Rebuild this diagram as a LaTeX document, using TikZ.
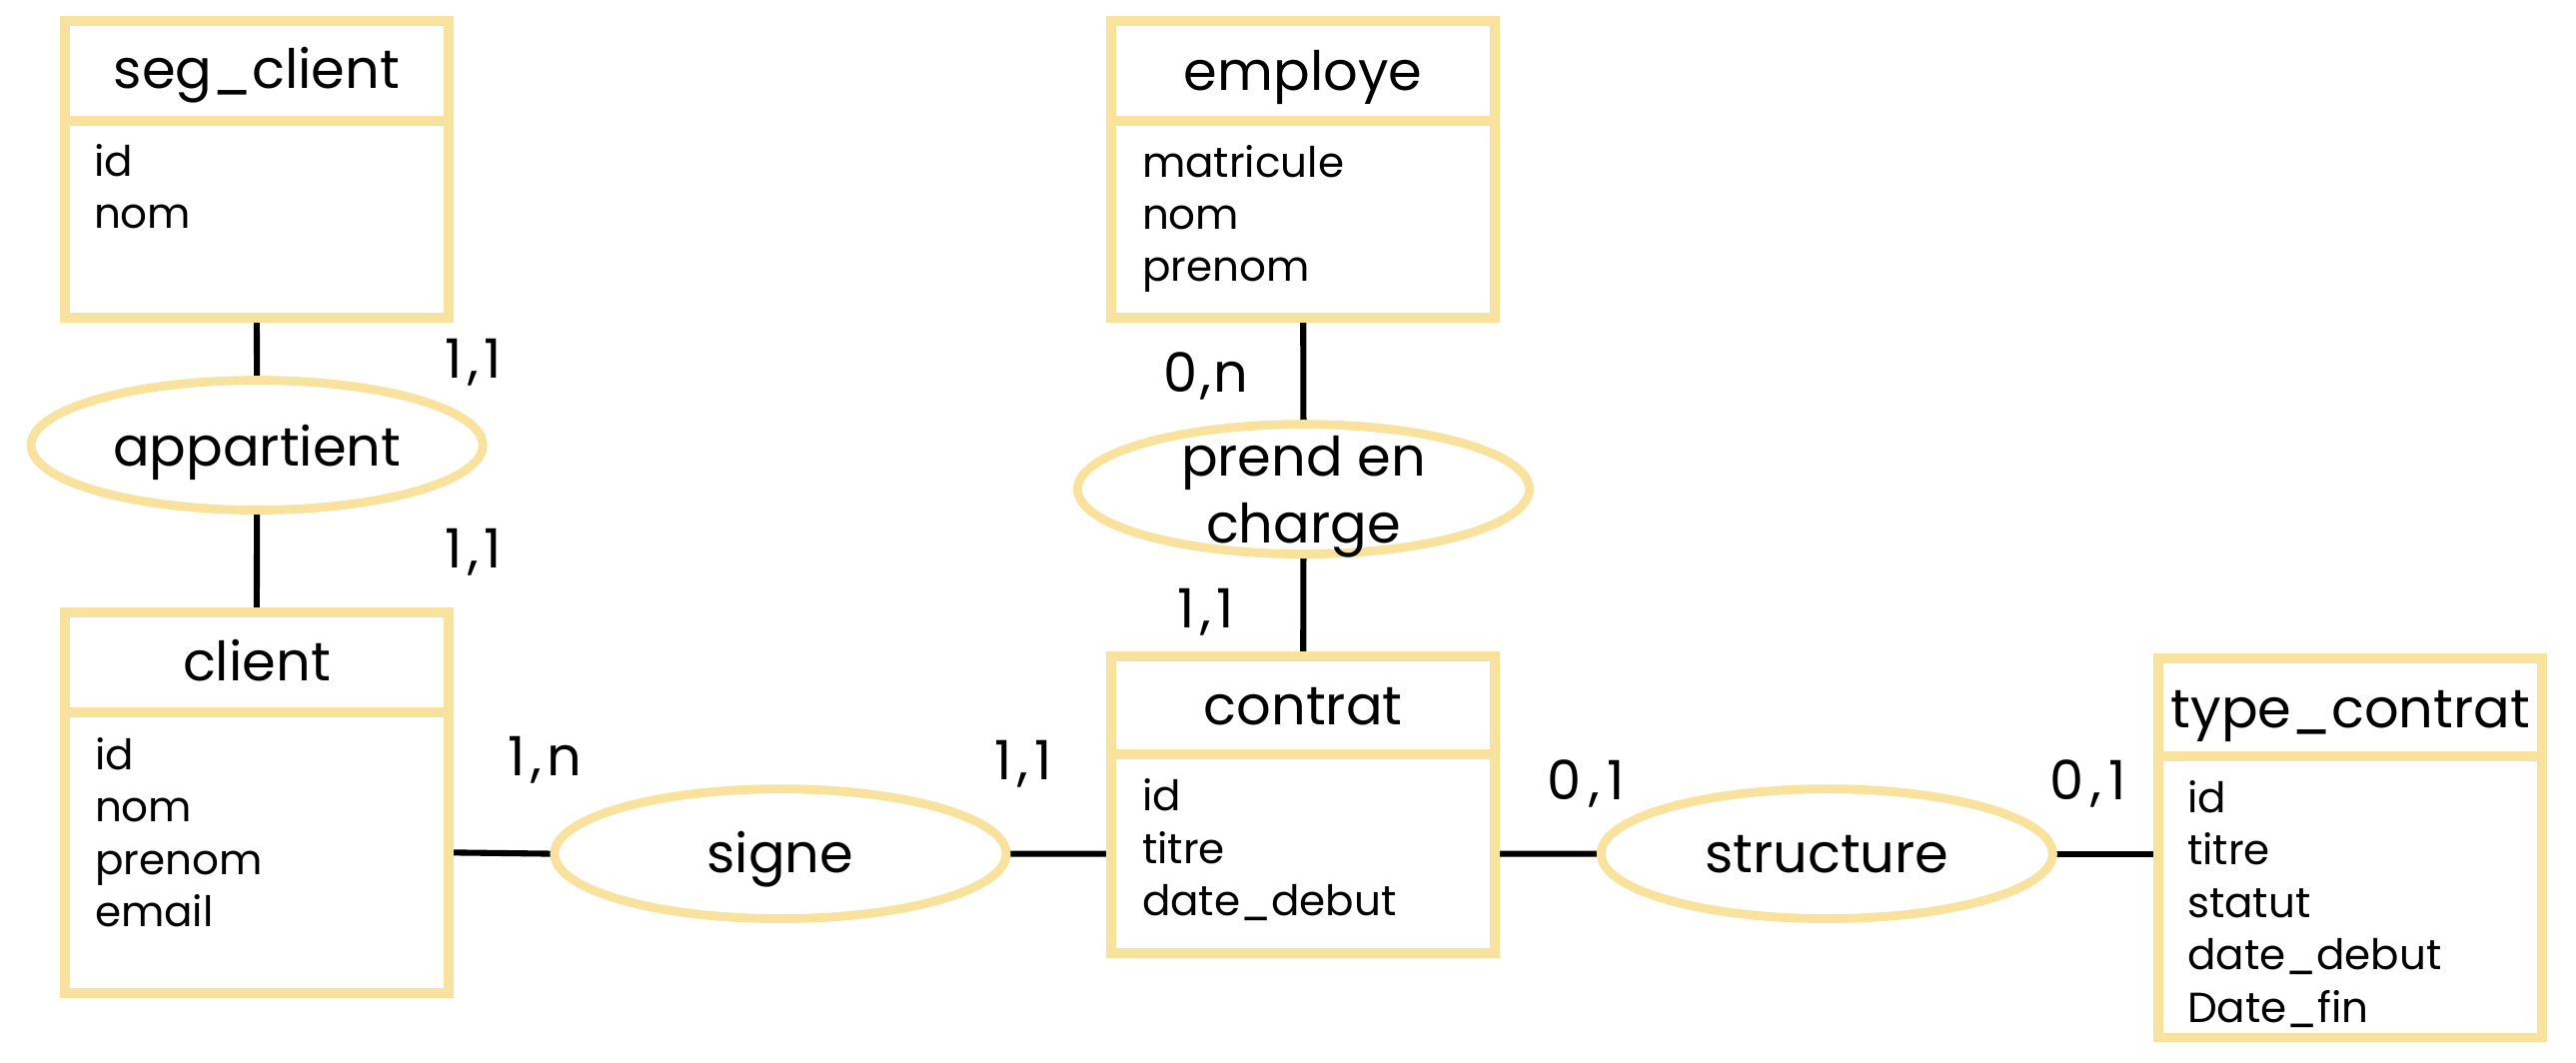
\documentclass[tikz,border=0pt]{standalone}
\usepackage{fontspec}
\setmainfont{Poppins}
\usetikzlibrary{shapes.geometric}
\definecolor{ery}{RGB}{249,226,158}
\pgfdeclarelayer{bg}
\pgfsetlayers{bg,main}
\newcommand{\cardsep}[1]{\kern#1,\kern#1}
\begin{document}
\begin{tikzpicture}[x=1pt,y=-1pt,
  box/.style={draw=ery, line width=6pt, rectangle, inner sep=0pt, outer sep=0pt, anchor=north west, minimum width=233.5pt},
  rel/.style={draw=ery, line width=5.4pt, ellipse, inner sep=0pt, outer sep=0pt, minimum width=275pt, minimum height=79pt},
  link/.style={line width=3.7pt, black},
  title/.style={font=\fontsize{33}{40}\selectfont, anchor=base, inner sep=0pt},
  attr/.style={font=\fontsize{25.6}{31}\selectfont, anchor=base west, inner sep=0pt},
  card/.style={font=\fontsize{33}{38}\selectfont, anchor=base, inner sep=0pt},
  reltxt/.style={font=\fontsize{33}{40}\selectfont, anchor=base, inner sep=0pt}
]
\useasboundingbox (0,0) rectangle (1568,647);

% entities
\node[box, minimum height=60.9pt] (sc-head) at (39.5,12.7) {};
\node[box, minimum height=119.9pt] (sc-body) at (39.5,73.6) {};
\node[box, minimum height=60.4pt] (cl-head) at (39.5,373) {};
\node[box, minimum height=171.2pt] (cl-body) at (39.5,433.4) {};
\node[box, minimum height=60.7pt] (em-head) at (676.5,12.7) {};
\node[box, minimum height=120.1pt] (em-body) at (676.5,73.4) {};
\node[box, minimum height=59.4pt] (co-head) at (676.5,399.8) {};
\node[box, minimum height=121.3pt] (co-body) at (676.5,459.2) {};
\node[box, minimum height=59.7pt] (tc-head) at (1314,400.8) {};
\node[box, minimum height=171.1pt] (tc-body) at (1314,460.5) {};

% relations
\node[rel] (app) at (156.4,271) {};
\node[rel] (pec) at (793.4,297.8) {};
\node[rel] (sig) at (475,519.8) {};
\node[rel] (str) at (1112,519.8) {};

% titles
\node[title] (t-sc) at (156.25,54) {seg\_client};
\node[title] (t-cl) at (156.25,414.6) {client};
\node[title] (t-em) at (793.25,54.8) {employe};
\node[title] (t-co) at (793.25,441) {contrat};
\node[title] (t-tc) at (1430.75,443) {type\_contrat};

% attributes
\foreach \t [count=\i] in {id,nom}
  \node[attr] (a-sc\i) at (57,107.5+31.7*\i-31.7) {\t};
\foreach \t [count=\i] in {id,nom,prenom,email}
  \node[attr] (a-cl\i) at (57.6,468.4+31.9*\i-31.9) {\t};
\foreach \t [count=\i] in {matricule,nom,prenom}
  \node[attr] (a-em\i) at (695,108+31.5*\i-31.5) {\t};
\foreach \t [count=\i] in {id,titre,date\_debut}
  \node[attr] (a-co\i) at (695,493.7+31.9*\i-31.9) {\t};
\foreach \t [count=\i] in {id,titre,statut,date\_debut,Date\_fin}
  \node[attr] (a-tc\i) at (1331.3,494.7+31.9*\i-31.9) {\t};

% relation texts
\node[reltxt] (r-app) at (156.4,283.5) {appartient};
\node[reltxt] (r-pec1) at (793.4,289.6) {prend en};
\node[reltxt] (r-pec2) at (793.4,330.6) {charge};
\node[reltxt] (r-sig) at (475,531) {signe};
\node[reltxt] (r-str) at (1112,531) {structure};

% cardinalities
\node[card] (c1) at (288,230) {1\cardsep{3.5pt}1};
\node[card] (c2) at (288,346) {1\cardsep{3.5pt}1};
\node[card] (c3) at (331.7,472.4) {1\cardsep{3.5pt}n};
\node[card] (c4) at (623,474.5) {1\cardsep{3.5pt}1};
\node[card] (c5) at (734,239) {0\cardsep{1.5pt}n};
\node[card] (c6) at (734,382.5) {1\cardsep{3.5pt}1};
\node[card] (c7) at (965.5,487) {0\cardsep{4.5pt}1};
\node[card] (c8) at (1271,487) {0\cardsep{4.5pt}1};

% connectors
\begin{pgfonlayer}{bg}
\draw[link] (sc-body.south) -- (app.north);
\draw[link] (app.south) -- (cl-head.north);
\draw[link] (cl-body.east) -- (sig.west);
\draw[link] (sig.east) -- (co-body.west);
\draw[link] (em-body.south) -- (pec.north);
\draw[link] (pec.south) -- (co-head.north);
\draw[link] (co-body.east) -- (str.west);
\draw[link] (str.east) -- (tc-body.west |- str.east);
\end{pgfonlayer}
\end{tikzpicture}
\end{document}
